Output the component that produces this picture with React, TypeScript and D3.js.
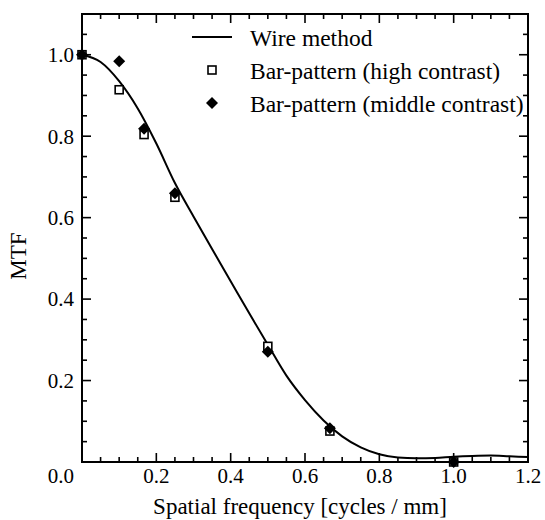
import * as d3 from "d3";

const wireX = [0, 0.05, 0.1, 0.15, 0.2, 0.25, 0.3, 0.35, 0.4, 0.45, 0.5, 0.55, 0.6, 0.65, 0.7, 0.75, 0.8, 0.85, 0.9, 0.95, 1.0, 1.05, 1.1, 1.15, 1.2];
const wireY = [1.0, 0.982, 0.935, 0.868, 0.782, 0.685, 0.603, 0.523, 0.444, 0.365, 0.288, 0.212, 0.152, 0.102, 0.063, 0.036, 0.019, 0.011, 0.009, 0.01, 0.013, 0.015, 0.016, 0.014, 0.012];

const barX = [0, 0.1, 0.167, 0.25, 0.5, 0.667, 1.0];
const highY = [1.0, 0.914, 0.804, 0.65, 0.284, 0.076, 0.0];
const middleY = [1.0, 0.984, 0.818, 0.66, 0.271, 0.083, 0.0];

const xTicks = [0.2, 0.4, 0.6, 0.8, 1.0, 1.2];
const yTicks = [0.2, 0.4, 0.6, 0.8, 1.0];

const width = 545;
const height = 520;
const left = 82;
const right = 528;
const top = 14;
const bottom = 462;
const tf = { fontFamily: '"Liberation Serif", "Times New Roman", serif' };

export default function App() {
  const x = d3.scaleLinear().domain([0, 1.2]).range([left, right]);
  const y = d3.scaleLinear().domain([0, 1.1]).range([bottom, top]);

  const line = d3
    .line<number>()
    .x((d, i) => x(wireX[i]))
    .y((d) => y(d))
    .curve(d3.curveMonotoneX);

  const xMinor = d3.range(0, 25).map((i) => i * 0.05);
  const yMinor = d3.range(0, 23).map((i) => i * 0.05);
  const isMajor = (v: number) => Math.abs(v / 0.2 - Math.round(v / 0.2)) < 1e-6;

  const diamond = (cx: number, cy: number, r: number) =>
    `M${cx},${cy - r}L${cx + r},${cy}L${cx},${cy + r}L${cx - r},${cy}Z`;

  return (
    <div style={{ position: "absolute", left: 0, top: 0 }}>
      <svg width={width} height={height} style={{ display: "block", background: "#fff" }}>
        {/* ticks, inward on all four sides */}
        <g stroke="#000" strokeWidth={1.6}>
          {xMinor.map((v) => {
            const len = isMajor(v) ? 9 : 5;
            return (
              <g key={"x" + v}>
                <line x1={x(v)} x2={x(v)} y1={bottom} y2={bottom - len} />
                <line x1={x(v)} x2={x(v)} y1={top} y2={top + len} />
              </g>
            );
          })}
          {yMinor.map((v) => {
            const len = isMajor(v) ? 9 : 5;
            return (
              <g key={"y" + v}>
                <line x1={left} x2={left + len} y1={y(v)} y2={y(v)} />
                <line x1={right} x2={right - len} y1={y(v)} y2={y(v)} />
              </g>
            );
          })}
        </g>

        <path d={line(wireY) ?? ""} fill="none" stroke="#000" strokeWidth={2} />

        {barX.map((v, i) => (
          <rect
            key={"h" + i}
            x={x(v) - 4}
            y={y(highY[i]) - 4}
            width={8}
            height={8}
            fill="#fff"
            stroke="#000"
            strokeWidth={1.6}
          />
        ))}
        {barX.map((v, i) => (
          <path key={"m" + i} d={diamond(x(v), y(middleY[i]), 6)} fill="#000" />
        ))}

        <rect x={left} y={top} width={right - left} height={bottom - top} fill="none" stroke="#000" strokeWidth={2} />

        <g fill="#000">
          <g fontSize={21}>
            {xTicks.map((v) => (
              <text key={"xl" + v} style={tf} x={x(v)} y={483} textAnchor="middle">
                {v.toFixed(1)}
              </text>
            ))}
            <text style={tf} x={74} y={483} textAnchor="end">0.0</text>
            {yTicks.map((v) => (
              <text key={"yl" + v} style={tf} x={74} y={y(v)} dy="0.35em" textAnchor="end">
                {v.toFixed(1)}
              </text>
            ))}
          </g>
          <g fontSize={23}>
            <text style={tf} x={300} y={514} textAnchor="middle">
              Spatial frequency [cycles / mm]
            </text>
            <text style={tf} transform="translate(26,256) rotate(-90)" textAnchor="middle">
              MTF
            </text>
          </g>

          {/* legend */}
          <line x1={192} x2={232} y1={37} y2={37} stroke="#000" strokeWidth={2} />
          <rect x={208} y={66} width={8} height={8} fill="#fff" stroke="#000" strokeWidth={1.6} />
          <path d={diamond(212, 103, 6)} fill="#000" />
          <g fontSize={23.5}>
            <text style={tf} x={250} y={46}>Wire method</text>
            <text style={tf} x={250} y={79}>Bar-pattern (high contrast)</text>
            <text style={tf} x={250} y={112}>Bar-pattern (middle contrast)</text>
          </g>
        </g>
      </svg>
    </div>
  );
}
